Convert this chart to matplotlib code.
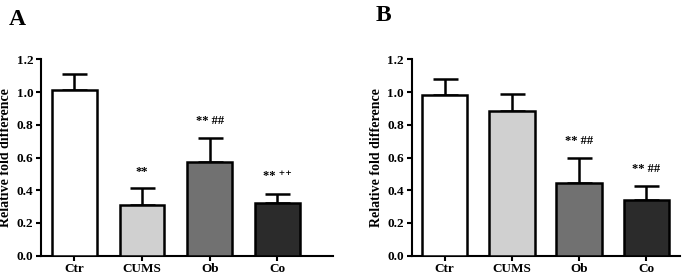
import matplotlib
matplotlib.use("Agg")
import matplotlib.pyplot as plt

plt.rcParams['font.family'] = ['Liberation Serif', 'DejaVu Serif']
plt.rcParams['font.weight'] = 'bold'

categories = ["Ctr", "CUMS", "Ob", "Co"]
a_values = [1.01, 0.31, 0.57, 0.32]
a_errors = [0.10, 0.105, 0.15, 0.06]
b_values = [0.98, 0.885, 0.445, 0.338]
b_errors = [0.10, 0.10, 0.15, 0.09]
a_labels = ["", "**", "** ##", "** ⁺⁺"]
b_labels = ["", "", "** ##", "** ##"]
a_label_y = [None, 0.51, 0.82, 0.49]
b_label_y = [None, None, 0.70, 0.53]
colors = ["#ffffff", "#d0d0d0", "#717171", "#2b2b2b"]
yticks = [0.0, 0.2, 0.4, 0.6, 0.8, 1.0, 1.2]

fig = plt.figure(figsize=(6.85, 2.78), dpi=100)

def panel(rect, values, errors, labels, label_y, xlim, width, letter, letter_pos):
    ax = fig.add_axes(rect)
    x = list(range(len(categories)))
    ax.bar(x, values, width=width, color=colors, edgecolor="black", linewidth=1.8, zorder=3)
    ax.errorbar(x, values, yerr=[[0]*len(values), errors], fmt="none", ecolor="black",
                elinewidth=1.8, capsize=9, capthick=1.8, zorder=2)
    for xi, lab, ly in zip(x, labels, label_y):
        if lab:
            ax.text(xi, ly, lab, ha="center", va="center", fontsize=9, fontweight="bold")
    ax.set_ylim(0, 1.2)
    ax.set_xlim(*xlim)
    ax.set_yticks(yticks)
    ax.set_yticklabels([f"{t:.1f}" for t in yticks])
    ax.set_xticks(x)
    ax.set_xticklabels(categories)
    ax.spines["top"].set_visible(False)
    ax.spines["right"].set_visible(False)
    ax.spines["left"].set_linewidth(1.5)
    ax.spines["bottom"].set_linewidth(1.5)
    ax.tick_params(axis="both", direction="out", length=3.5, width=1.5, labelsize=9.5, pad=2)
    ax.set_ylabel("Relative fold difference", fontsize=10, fontweight="bold", labelpad=3)
    for t in ax.get_xticklabels() + ax.get_yticklabels():
        t.set_fontweight("bold")
    fig.text(letter_pos[0], letter_pos[1], letter, fontsize=17, fontweight="bold",
             ha="left", va="center")
    return ax

panel([0.0599, 0.0802, 0.4262, 0.7065], a_values, a_errors, a_labels, a_label_y,
      (-0.49, 3.82), 0.66, "A", (0.013, 0.93))
panel([0.601, 0.0802, 0.3917, 0.7065], b_values, b_errors, b_labels, b_label_y,
      (-0.49, 3.50), 0.68, "B", (0.548, 0.945))

fig.savefig("out.png", dpi=100)
